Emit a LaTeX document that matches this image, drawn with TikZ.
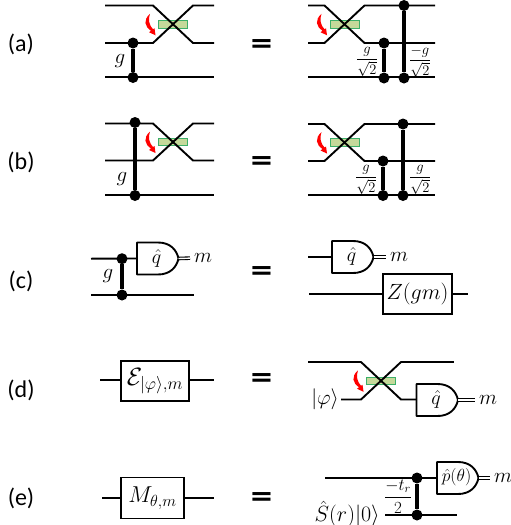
\documentclass[tikz,border=0pt]{standalone}
\usepackage{fix-cm}
\usepackage{amsmath}
\usepackage{graphicx}
\usepackage{fontspec}
\setmainfont{Carlito}
\definecolor{bsfill}{RGB}{197,217,154}
\definecolor{bsedge}{RGB}{60,175,105}
\newcommand{\eqsign}{\scalebox{1}[0.78]{=}}
\tikzset{
  wire/.style={line width=1.9pt,black,line join=round},
  dblwire/.style={double,double distance=1.4pt,line width=1.1pt,black,shorten >=4pt},
  coupling/.style={line width=3.4pt,black},
  dotnode/.style={circle,fill=black,inner sep=0pt,minimum size=11pt},
  bsrect/.style={draw=bsedge,fill=bsfill,line width=1pt},
  boxnode/.style={draw=black,line width=1.8pt,fill=white,inner sep=0pt},
  lab/.style={inner sep=0pt,font=\fontsize{24}{26}\selectfont},
  eqs/.style={inner sep=0pt,font=\fontsize{43}{43}\selectfont\bfseries},
  mth/.style={inner sep=0pt,font=\fontsize{21}{23}\selectfont},
  frc/.style={inner sep=0pt,font=\fontsize{14.5}{16}\selectfont},
}
% beam splitter: name, cx, ytop, ybot, xleft, xright
\newcommand{\bsplit}[6]{%
  \pgfmathsetmacro{\cym}{(#3+#4)/2}
  \node[bsrect,minimum width=29pt,minimum height=7.5pt,inner sep=0pt] (#1) at (#2,\cym) {};
  \coordinate (#1tl) at (#5,#3); \coordinate (#1bl) at (#5,#4);
  \coordinate (#1tr) at (#6,#3); \coordinate (#1br) at (#6,#4);
  \coordinate (#1a) at (#2-20,#3); \coordinate (#1b) at (#2-20,#4);
  \coordinate (#1c) at (#2+20,#3); \coordinate (#1d) at (#2+20,#4);
  \draw[wire] (#1tl) -- (#1a) -- (#1d) -- (#1br);
  \draw[wire] (#1bl) -- (#1b) -- (#1c) -- (#1tr);
  \fill[red,shift={(#2,\cym)}] (-23,-10.5) .. controls (-30,-4) and (-28.5,2) .. (-22,6.5)
     -- (-24,8) -- (-17.5,11) -- (-18.5,4) -- (-20,5)
     .. controls (-24,1) and (-25,-5) .. (-23,-10.5) -- cycle;
}
% gate: name, xleft, ytop, ybot, label
\newcommand{\meas}[5]{%
  \pgfmathsetmacro{\gxm}{#2+21}
  \pgfmathsetmacro{\gxr}{#2+41.5}
  \pgfmathsetmacro{\gym}{(#3+#4)/2}
  \draw[wire,fill=white] (#2,#3) -- (\gxm,#3) .. controls (\gxm+12,#3) and (\gxr-2,\gym-9) .. (\gxr,\gym)
     .. controls (\gxr-2,\gym+9) and (\gxm+12,#4) .. (\gxm,#4) -- (#2,#4) -- cycle;
  \coordinate (#1in) at (#2,\gym);
  \coordinate (#1out) at (\gxr,\gym);
  \node[inner sep=0pt] (#1txt) at (#2+19.5,\gym-0.5) {#5};
}
\begin{document}
\begin{tikzpicture}[x=1pt,y=-1pt]
\useasboundingbox (0,0) rectangle (511,525);

% row labels
\node[lab] (la) at (21,44) {(a)};
\node[lab] (lb) at (21,162) {(b)};
\node[lab] (lc) at (21,281) {(c)};
\node[lab] (ld) at (21,390) {(d)};
\node[lab] (le) at (21,498) {(e)};

% equals
\node[eqs] (ea) at (261.5,47) {\eqsign};
\node[eqs] (eb) at (261.5,164.5) {\eqsign};
\node[eqs] (ec) at (261.5,274.5) {\eqsign};
\node[eqs] (ed) at (261.5,381) {\eqsign};
\node[eqs] (ee) at (261.5,500) {\eqsign};

% (a) left
\bsplit{aL}{173}{5.5}{43}{105}{214}
\coordinate (aLw3l) at (105,77); \coordinate (aLw3r) at (214,77);
\draw[wire] (aLw3l) -- (aLw3r);
\node[dotnode] (aL1) at (133,43) {};
\node[dotnode] (aL2) at (133,77.5) {};
\draw[coupling] (aL1) -- (aL2);
\node[mth] (aLg) at (120,61) {$g$};

% (a) right
\bsplit{aR}{344.5}{5.5}{43}{308}{435}
\coordinate (aRw3l) at (308,77); \coordinate (aRw3r) at (435,77);
\draw[wire] (aRw3l) -- (aRw3r);
\node[dotnode] (aR1) at (384,43) {};
\node[dotnode] (aR2) at (384,78) {};
\node[dotnode] (aR3) at (404,5.5) {};
\node[dotnode] (aR4) at (404,78) {};
\draw[coupling] (aR1) -- (aR2);
\draw[coupling] (aR3) -- (aR4);
\node[frc] (aRf1) at (367,62) {$\dfrac{g}{\sqrt{2}}$};
\node[frc] (aRf2) at (420,62) {$\dfrac{-g}{\sqrt{2}}$};

% (b) left
\bsplit{bL}{173}{123.5}{160.5}{105}{214}
\coordinate (bLw3l) at (105,195); \coordinate (bLw3r) at (214,195);
\draw[wire] (bLw3l) -- (bLw3r);
\node[dotnode] (bL1) at (135,122.5) {};
\node[dotnode] (bL2) at (135,195.5) {};
\draw[coupling] (bL1) -- (bL2);
\node[mth] (bLg) at (122,179) {$g$};

% (b) right
\bsplit{bR}{344.5}{124}{161}{308}{435}
\coordinate (bRw3l) at (308,195); \coordinate (bRw3r) at (435,195);
\draw[wire] (bRw3l) -- (bRw3r);
\node[dotnode] (bR1) at (383,161) {};
\node[dotnode] (bR2) at (383,195.5) {};
\node[dotnode] (bR3) at (403,124) {};
\node[dotnode] (bR4) at (403,195.5) {};
\draw[coupling] (bR1) -- (bR2);
\draw[coupling] (bR3) -- (bR4);
\node[frc] (bRf1) at (366,180) {$\dfrac{g}{\sqrt{2}}$};
\node[frc] (bRf2) at (420,180) {$\dfrac{g}{\sqrt{2}}$};

% (c) left
\coordinate (cL1l) at (91,258.7); \coordinate (cL2l) at (91,294.7); \coordinate (cL2r) at (194,294.7);
\draw[wire] (cL2l) -- (cL2r);
\meas{cLm}{137}{242.5}{274.5}{\fontsize{20}{22}\selectfont$\hat q$}
\draw[wire] (cL1l) -- (cLmin);
\node[dotnode] (cL1) at (122,258.7) {};
\node[dotnode] (cL2) at (122,295) {};
\draw[coupling] (cL1) -- (cL2);
\node[mth] (cLg) at (108,276) {$g$};
\node[mth,anchor=west] (cLm2) at (194,258) {$m$};
\draw[dblwire] (cLmout) -- (cLm2.west);

% (c) right
\coordinate (cR1l) at (308,257);
\meas{cRm}{332}{241}{273}{\fontsize{20}{22}\selectfont$\hat q$}
\draw[wire] (cR1l) -- (cRmin);
\node[mth,anchor=west] (cRm2) at (390,257) {$m$};
\draw[dblwire] (cRmout) -- (cRm2.west);
\coordinate (cR2l) at (309,294); \coordinate (cR2r) at (468,294);
\node[boxnode,minimum width=69pt,minimum height=40pt] (cRz) at (417.5,294) {\fontsize{22}{24}\selectfont$Z(gm)$};
\draw[wire] (cR2l) -- (cRz);
\draw[wire] (cRz) -- (cR2r);

% (d) left
\coordinate (dL1) at (100,380); \coordinate (dL2) at (214,380);
\node[boxnode,minimum width=68pt,minimum height=40pt] (dLb) at (155,381) {\fontsize{25}{26}\selectfont$\mathcal{E}_{|\varphi\rangle,m}$};
\draw[wire] (dL1) -- (dL1-|dLb.west);
\draw[wire] (dL2-|dLb.east) -- (dL2);

% (d) right
\bsplit{dR}{381}{362}{399.5}{341}{416}
\coordinate (dRt) at (454,362);
\draw[wire] (dRc) -- (dRt);
\meas{dRm}{416.5}{384}{416}{\fontsize{20}{22}\selectfont$\hat q$}
\node[mth,anchor=west] (dRm2) at (479,400) {$m$};
\draw[dblwire] (dRmout) -- (dRm2.west);
\node[mth,anchor=east] (dRphi) at (339,399) {$|\varphi\rangle$};
\coordinate (dRtl2) at (308,362);
\draw[wire] (dRtl2) -- (dRa);

% (e) left
\coordinate (eL1) at (102,498); \coordinate (eL2) at (214,498);
\node[boxnode,minimum width=63pt,minimum height=41pt] (eLb) at (152.5,498) {\fontsize{23}{25}\selectfont$M_{\theta,m}$};
\draw[wire] (eL1) -- (eLb);
\draw[wire] (eLb) -- (eL2);

% (e) right
\coordinate (eR1l) at (325,478); \coordinate (eR2r) at (457,515); \coordinate (eR2l) at (385,515);
\meas{eRm}{437}{462}{494}{\fontsize{17.5}{19}\selectfont$\hat p(\theta)$}
\draw[wire] (eR1l) -- (eRmin);
\node[mth,anchor=west] (eRm2) at (494,478) {$m$};
\draw[dblwire] (eRmout) -- (eRm2.west);
\node[mth,anchor=east] (eRs) at (380,514) {\fontsize{22}{24}\selectfont$\hat S(r)|0\rangle$};
\draw[wire] (eR2l) -- (eR2r);
\node[dotnode] (eR1) at (417,478) {};
\node[dotnode] (eR2) at (417,515) {};
\draw[coupling] (eR1) -- (eR2);
\node[inner sep=0pt,font=\fontsize{17}{19}\selectfont] (eRf) at (398,496.5) {$\dfrac{-t_r}{2}$};
\end{tikzpicture}
\end{document}
